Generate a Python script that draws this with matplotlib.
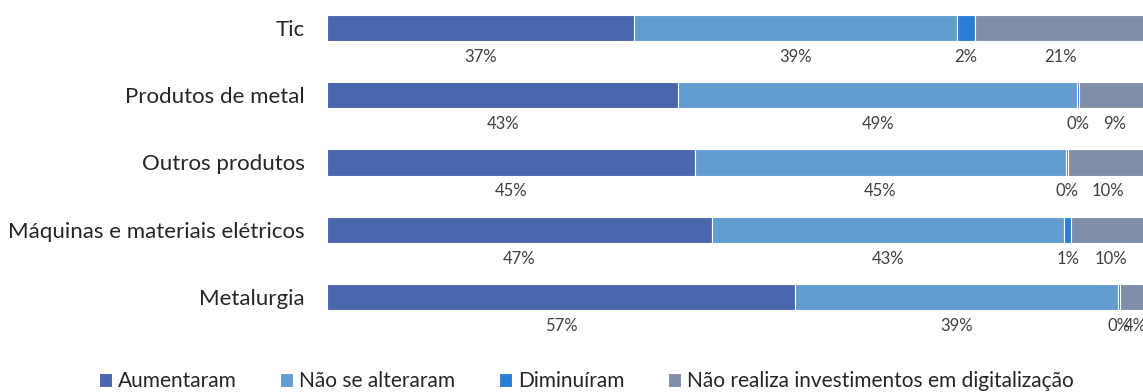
import matplotlib.pyplot as plt

plt.rcParams['font.family'] = ['Lato', 'DejaVu Sans']

categorias = ["Tic", "Produtos de metal", "Outros produtos",
              "Máquinas e materiais elétricos", "Metalurgia"]
series = ["Aumentaram", "Não se alteraram", "Diminuíram",
          "Não realiza investimentos em digitalização"]
aumentaram = [37.4, 42.8, 44.8, 46.9, 57.0]
nao_alteraram = [39.3, 48.6, 45.2, 42.9, 39.3]
diminuiram = [2.2, 0.2, 0.3, 0.85, 0.3]
nao_realiza = [21.0, 8.6, 9.7, 9.6, 3.6]
cores = ["#4A66AC", "#629DD1", "#297FD5", "#7F8FA9"]

fig = plt.figure(figsize=(11.43, 3.92), dpi=100)
ax = fig.add_axes([327 / 1143, 1 - 335 / 392, 1 - 327 / 1143, 335 / 392])

valores = [aumentaram, nao_alteraram, diminuiram, nao_realiza]
pos = list(range(len(categorias)))
inicio = [0.0] * len(categorias)
for serie, vals, cor in zip(series, valores, cores):
    ax.barh(pos, vals, left=inicio, height=0.39, color=cor, label=serie,
            edgecolor='white', linewidth=0.8)
    for i, v in enumerate(vals):
        ax.text(inicio[i] + v / 2, i + 0.43, f"{v:.0f}%", ha='center', va='center',
                fontsize=12, color='#404040')
    inicio = [a + b for a, b in zip(inicio, vals)]

ax.set_xlim(0, 99.4)
ax.set_ylim(4.565, -0.416)
ax.set_yticks(pos)
ax.set_yticklabels(categorias, fontsize=16, color='#262626')
ax.tick_params(axis='y', length=0, pad=16)
ax.set_xticks([])
for s in ax.spines.values():
    s.set_visible(False)

fig.legend(loc='center', bbox_to_anchor=(0.513, 0.027), ncol=4, frameon=False,
           fontsize=15, handlelength=0.6, handleheight=0.6, handletextpad=0.3,
           columnspacing=2.1, labelcolor='#262626')

fig.savefig("out.png", dpi=100)
